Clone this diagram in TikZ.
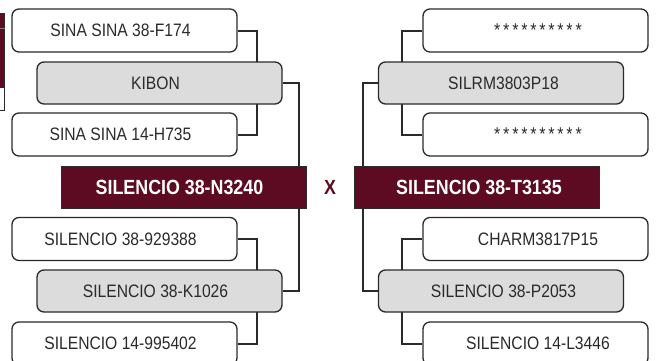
\documentclass[tikz,border=0pt]{standalone}
\usepackage{fontspec}
\setmainfont{Liberation Sans}[FakeStretch=0.87]
\usetikzlibrary{backgrounds}
\definecolor{maroon}{HTML}{5C0B22}
\definecolor{boxgray}{HTML}{DCDCDC}
\definecolor{ink}{HTML}{2A2A2A}
\tikzset{
  base/.style={draw=ink, line width=1.3pt, rounded corners=7pt, minimum height=43pt,
    inner sep=0pt, text=ink, font=\fontsize{18}{20}\selectfont},
  wbox/.style={base, fill=white, minimum width=225pt},
  gbox/.style={base, fill=boxgray, minimum width=245pt, minimum height=42pt},
  mainbox/.style={draw=ink, line width=0.8pt, fill=maroon, minimum width=245pt, minimum height=42pt,
    inner sep=0pt, text=white, font=\fontsize{20.5}{22}\selectfont\bfseries},
  leftside/.style={execute at end node={\hspace{8pt}}},
  rightside/.style={execute at begin node={\hspace{5pt}}},
  stars/.style={font=\fontsize{18.5}{20}\selectfont\addfontfeature{LetterSpace=15}},
  conn/.style={draw=ink, line width=2pt},
  cross/.style={text=maroon, font=\fontsize{20.5}{22}\selectfont\bfseries}
}
\begin{document}
\begin{tikzpicture}[x=1pt,y=-1pt]
\useasboundingbox (0,0) rectangle (656,360);
\clip (0,0) rectangle (656,360);
% cropped fragment at the left edge
\draw[draw=ink, line width=0.8pt, fill=maroon] (-5,13) rectangle (4.5,87);
\draw[gray, line width=0.6pt] (-5,28) -- (4.5,28);
\draw[draw=ink, line width=0.8pt, fill=white] (-5,87) rectangle (4.5,110);
% left family
\begin{scope}[leftside]
\node[wbox] (a1) at (124.5,30.5) {SINA SINA 38-F174};
\node[gbox] (a2) at (159.5,83) {KIBON};
\node[wbox] (a3) at (124.5,134.5) {SINA SINA 14-H735};
\node[mainbox] (L) at (183.5,187) {SILENCIO 38-N3240};
\node[wbox] (b1) at (124.5,239) {SILENCIO 38-929388};
\node[gbox] (b2) at (159.5,291) {SILENCIO 38-K1026};
\node[wbox] (b3) at (124.5,343.5) {SILENCIO 14-995402};
\end{scope}
% right family
\begin{scope}[rightside]
\node[wbox,stars] (c1) at (535.5,30.5) {**********};
\node[gbox] (c2) at (501,83) {SILRM3803P18};
\node[wbox,stars] (c3) at (535.5,134.5) {**********};
\node[mainbox] (R) at (476.5,187) {SILENCIO 38-T3135};
\node[wbox] (d1) at (535.5,239) {CHARM3817P15};
\node[gbox] (d2) at (501,291) {SILENCIO 38-P2053};
\node[wbox] (d3) at (535.5,343.5) {SILENCIO 14-L3446};
\end{scope}
\node[cross] (x) at (330,187) {X};
% connectors
\begin{scope}[on background layer]
\fill[white] (0,0) rectangle (656,360);
\draw[conn] (a1.east) -- ++(19,0) |- (a3.east);
\draw[conn] (a2.east) -| ([xshift=-7pt]L.north east);
\draw[conn] (b1.east) -- ++(19,0) |- (b3.east);
\draw[conn] (b2.east) -| ([xshift=-7pt]L.south east);
\draw[conn] (c1.west) -- ++(-20,0) |- (c3.west);
\draw[conn] (c2.west) -| ([xshift=9pt]R.north west);
\draw[conn] (d1.west) -- ++(-20,0) |- (d3.west);
\draw[conn] (d2.west) -| ([xshift=9pt]R.south west);
\end{scope}
\end{tikzpicture}
\end{document}
